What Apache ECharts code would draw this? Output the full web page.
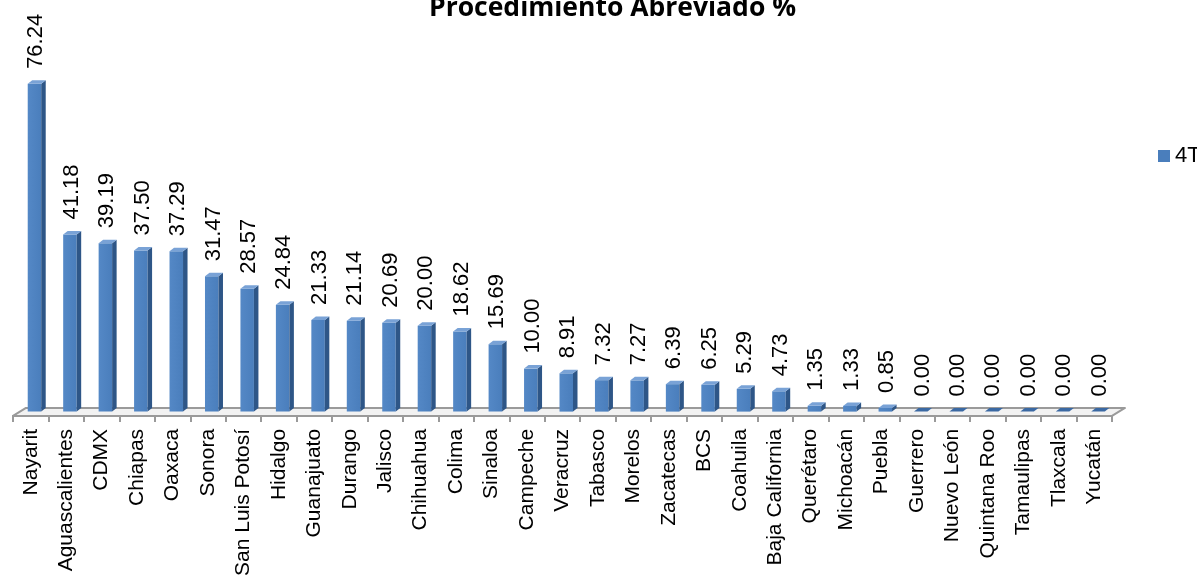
<!DOCTYPE html>
<html>
<head>
<meta charset="utf-8">
<script src="https://cdn.jsdelivr.net/npm/echarts@6/dist/echarts.min.js"></script>
<style>
  html, body { margin: 0; padding: 0; background: #ffffff; }
  #chart { width: 1197px; height: 579px; }
</style>
</head>
<body>
<div id="chart"></div>
<script>
// Procedimiento abreviado por entidad federativa (%)
const titleText = 'Procedimiento Abreviado %';
const seriesName = '4T';
const categories = [
  'Nayarit', 'Aguascalientes', 'CDMX', 'Chiapas', 'Oaxaca', 'Sonora',
  'San Luis Potosí', 'Hidalgo', 'Guanajuato', 'Durango', 'Jalisco',
  'Chihuahua', 'Colima', 'Sinaloa', 'Campeche', 'Veracruz', 'Tabasco',
  'Morelos', 'Zacatecas', 'BCS', 'Coahuila', 'Baja California',
  'Querétaro', 'Michoacán', 'Puebla', 'Guerrero', 'Nuevo León',
  'Quintana Roo', 'Tamaulipas', 'Tlaxcala', 'Yucatán'
];
const values = [
  76.24, 41.18, 39.19, 37.50, 37.29, 31.47,
  28.57, 24.84, 21.33, 21.14, 20.69,
  20.00, 18.62, 15.69, 10.00, 8.91, 7.32,
  7.27, 6.39, 6.25, 5.29, 4.73,
  1.35, 1.33, 0.85, 0.00, 0.00,
  0.00, 0.00, 0.00, 0.00
];

const FRONT = '#4a7ebc';
const SIDE = '#2e5687';
const TOP = '#79a2d6';
const FONT = '"Liberation Sans", Arial, sans-serif';

// floor of the 3D plot area, spanning all category bands
function renderFloor(params, api) {
  const n = categories.length;
  const bw = api.size([1, 0])[0];
  const left = api.coord([0, -1]);
  const right = api.coord([n - 1, -1]);
  const xl = left[0] - bw / 2;
  const xr = right[0] + bw / 2;
  const yf = left[1];
  const depthX = 13, depthY = 8;
  return {
    type: 'polygon',
    shape: { points: [[xl, yf], [xr, yf], [xr + depthX, yf - depthY], [xl + depthX, yf - depthY]] },
    style: { fill: '#f2f2f2', stroke: '#9a9a9a', lineWidth: 2, lineJoin: 'round' }
  };
}

// column with front, side and top faces plus its rotated value label
function renderBar(params, api) {
  const idx = api.value(0);
  const v = api.value(1);
  const base = api.coord([idx, 0]);
  const top = api.coord([idx, v]);
  const c = base[0];
  const x0 = c - 3, x1 = c + 10.5;
  const dx = 4.5, dy = 3.5;
  const yB = base[1], yT = top[1];
  return {
    type: 'group',
    children: [
      {
        type: 'rect',
        shape: { x: x0, y: yT, width: x1 - x0, height: Math.max(yB - yT, 0) },
        style: {
          fill: new echarts.graphic.LinearGradient(0, 0, 1, 0, [
            { offset: 0, color: '#5488c6' },
            { offset: 1, color: FRONT }
          ])
        }
      },
      {
        type: 'polygon',
        shape: { points: [[x1, yT], [x1 + dx, yT - dy], [x1 + dx, yB - dy], [x1, yB]] },
        style: { fill: SIDE }
      },
      {
        type: 'polygon',
        shape: { points: [[x0, yT], [x1, yT], [x1 + dx, yT - dy], [x0 + dx, yT - dy]] },
        style: { fill: v === 0 ? '#3b69a3' : TOP }
      },
      {
        type: 'text',
        x: c + 5.5,
        y: yT - 15,
        rotation: Math.PI / 2,
        style: {
          text: v.toFixed(2),
          x: 0,
          y: 0,
          align: 'left',
          verticalAlign: 'middle',
          fill: '#000000',
          font: '22px ' + FONT
        }
      }
    ]
  };
}

const chart = echarts.init(document.getElementById('chart'), null, { renderer: 'canvas' });
chart.setOption({
  backgroundColor: '#ffffff',
  animation: false,
  color: [FRONT],
  title: {
    text: titleText,
    left: 424,
    top: -10,
    textStyle: {
      fontFamily: '"Open Sans", sans-serif',
      fontWeight: 'bold',
      fontSize: 26.5,
      color: '#000000'
    }
  },
  legend: {
    left: 1153,
    top: 140,
    itemWidth: 12,
    itemHeight: 12,
    icon: 'rect',
    data: [seriesName],
    textStyle: { fontFamily: FONT, fontSize: 22, color: '#000000' }
  },
  grid: { left: 13, right: 85, top: 72, bottom: 161, containLabel: false },
  xAxis: {
    type: 'category',
    data: categories,
    boundaryGap: true,
    axisLine: { show: true, onZero: false, lineStyle: { color: '#9a9a9a', width: 2 } },
    axisTick: { show: true, length: 6, lineStyle: { color: '#9a9a9a', width: 2 } },
    axisLabel: {
      rotate: 90,
      interval: 0,
      margin: 13,
      color: '#000000',
      fontSize: 21,
      fontFamily: FONT
    },
    splitLine: { show: false }
  },
  yAxis: {
    type: 'value',
    min: -1,
    max: 79,
    show: false,
    splitLine: { show: false }
  },
  series: [
    {
      type: 'custom',
      name: 'floor',
      silent: true,
      renderItem: renderFloor,
      data: [[0, 0]],
      z: 1
    },
    {
      type: 'custom',
      name: seriesName,
      renderItem: renderBar,
      encode: { x: 0, y: 1 },
      itemStyle: { color: FRONT },
      data: values.map((v, i) => [i, v]),
      z: 2
    }
  ]
});
</script>
</body>
</html>
